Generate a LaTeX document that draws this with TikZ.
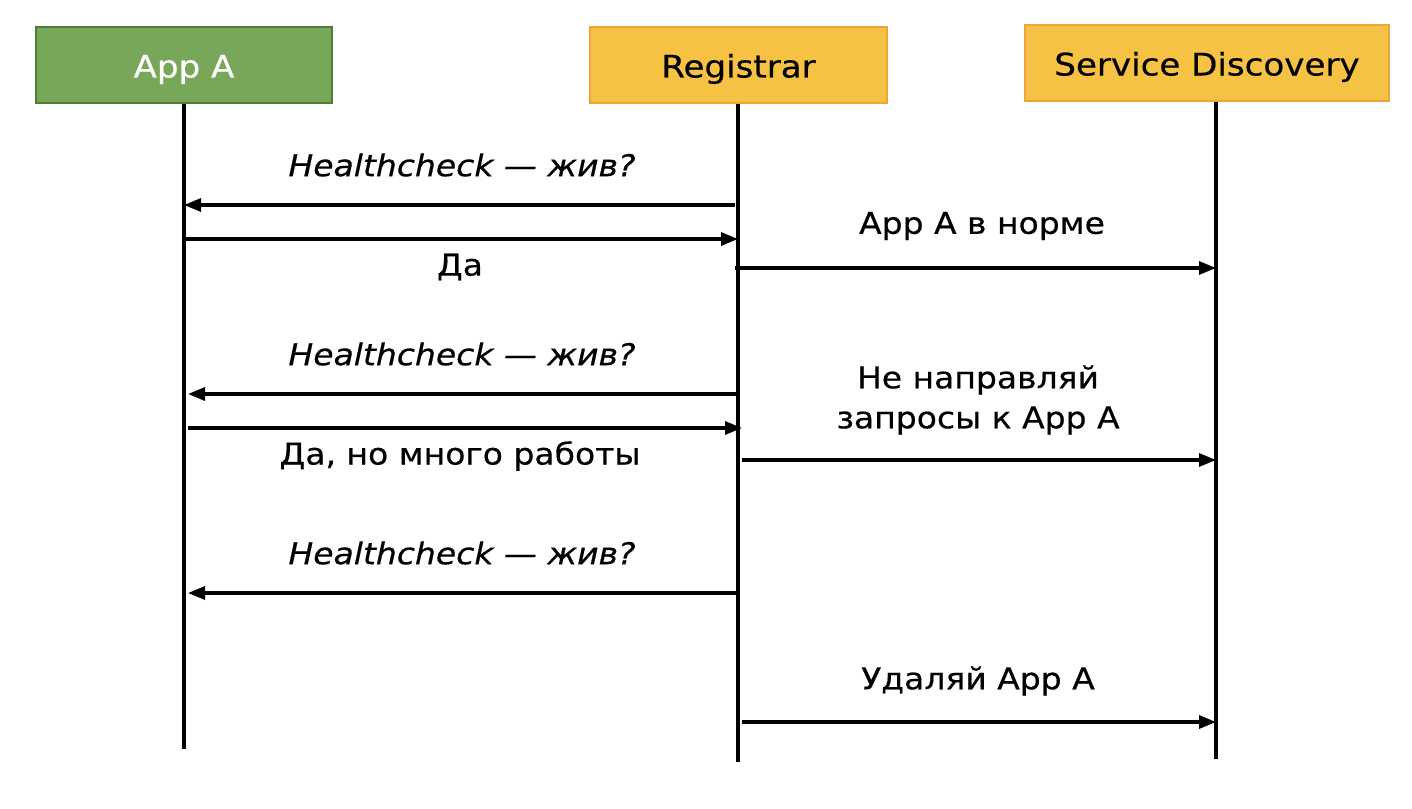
\documentclass[tikz,border=0pt]{standalone}
\usepackage{fontspec}
\setmainfont[FakeStretch=1.10,FakeBold=0.5]{DejaVu Sans}
\usetikzlibrary{arrows.meta}
\definecolor{appfill}{HTML}{78A75A}
\definecolor{appdraw}{HTML}{4E7D37}
\definecolor{orfill}{HTML}{F6C243}
\definecolor{ordraw}{HTML}{F0A33A}
\tikzset{
  actor/.style={draw, line width=1.2pt, minimum height=76pt, inner sep=0pt, text height=25pt, text depth=0pt, font=\fontsize{31}{36}\selectfont},
  appbox/.style={actor, fill=appfill, draw=appdraw, text=white},
  orbox/.style={actor, fill=orfill, draw=ordraw, text=black},
  life/.style={line width=3.2pt, black},
  msg/.style={line width=3.2pt, -{Triangle[length=17pt,width=13pt]}},
  lbl/.style={font=\fontsize{30}{40}\selectfont, inner sep=0pt, align=center},
  ilbl/.style={lbl, font=\fontsize{30}{40}\selectfont\itshape}
}
\begin{document}
\begin{tikzpicture}[x=1pt,y=-1pt]
\useasboundingbox (0,0) rectangle (1412,808);
\node[appbox, minimum width=296pt] (app) at (184,65) {App A};
\node[orbox, minimum width=297pt] (reg) at (738.5,65) {Registrar};
\node[orbox, minimum width=364pt] (sd) at (1207,63) {Service Discovery};
\coordinate (append) at (184,749);
\coordinate (regend) at (738,762);
\coordinate (sdend) at (1216,759);
\draw[life] (app.south) -- (append);
\draw[life] (reg.south -| regend) -- (regend);
\draw[life] (sd.south -| sdend) -- (sdend);
% message rows
\coordinate (m1) at (0,205);
\coordinate (m2) at (0,239);
\coordinate (m3) at (0,268);
\coordinate (m4) at (0,394);
\coordinate (m5) at (0,428);
\coordinate (m6) at (0,460);
\coordinate (m7) at (0,593);
\coordinate (m8) at (0,722);
\draw[msg] ([xshift=-3pt]regend |- m1) -- (append |- m1);
\draw[msg] (append |- m2) -- (regend |- m2);
\draw[msg] ([xshift=-3pt]regend |- m3) -- (sdend |- m3);
\draw[msg] (regend |- m4) -- ([xshift=4pt]append |- m4);
\draw[msg] ([xshift=4pt]append |- m5) -- ([xshift=4pt]regend |- m5);
\draw[msg] ([xshift=4pt]regend |- m6) -- (sdend |- m6);
\draw[msg] (regend |- m7) -- ([xshift=4pt]append |- m7);
\draw[msg] ([xshift=4pt]regend |- m8) -- (sdend |- m8);
% labels
\node[ilbl] (l1) at (462,165) {Healthcheck — жив?};
\node[lbl] (l2) at (460,267) {Да};
\node[lbl] (l3) at (982,226) {App A в норме};
\node[ilbl] (l4) at (462,354) {Healthcheck — жив?};
\node[lbl] (l5) at (460,456) {Да, но много работы};
\node[lbl] (l6) at (978,400) {Не направляй\\запросы к App A};
\node[ilbl] (l7) at (462,553) {Healthcheck — жив?};
\node[lbl] (l8) at (978,681) {Удаляй App A};
\end{tikzpicture}
\end{document}
